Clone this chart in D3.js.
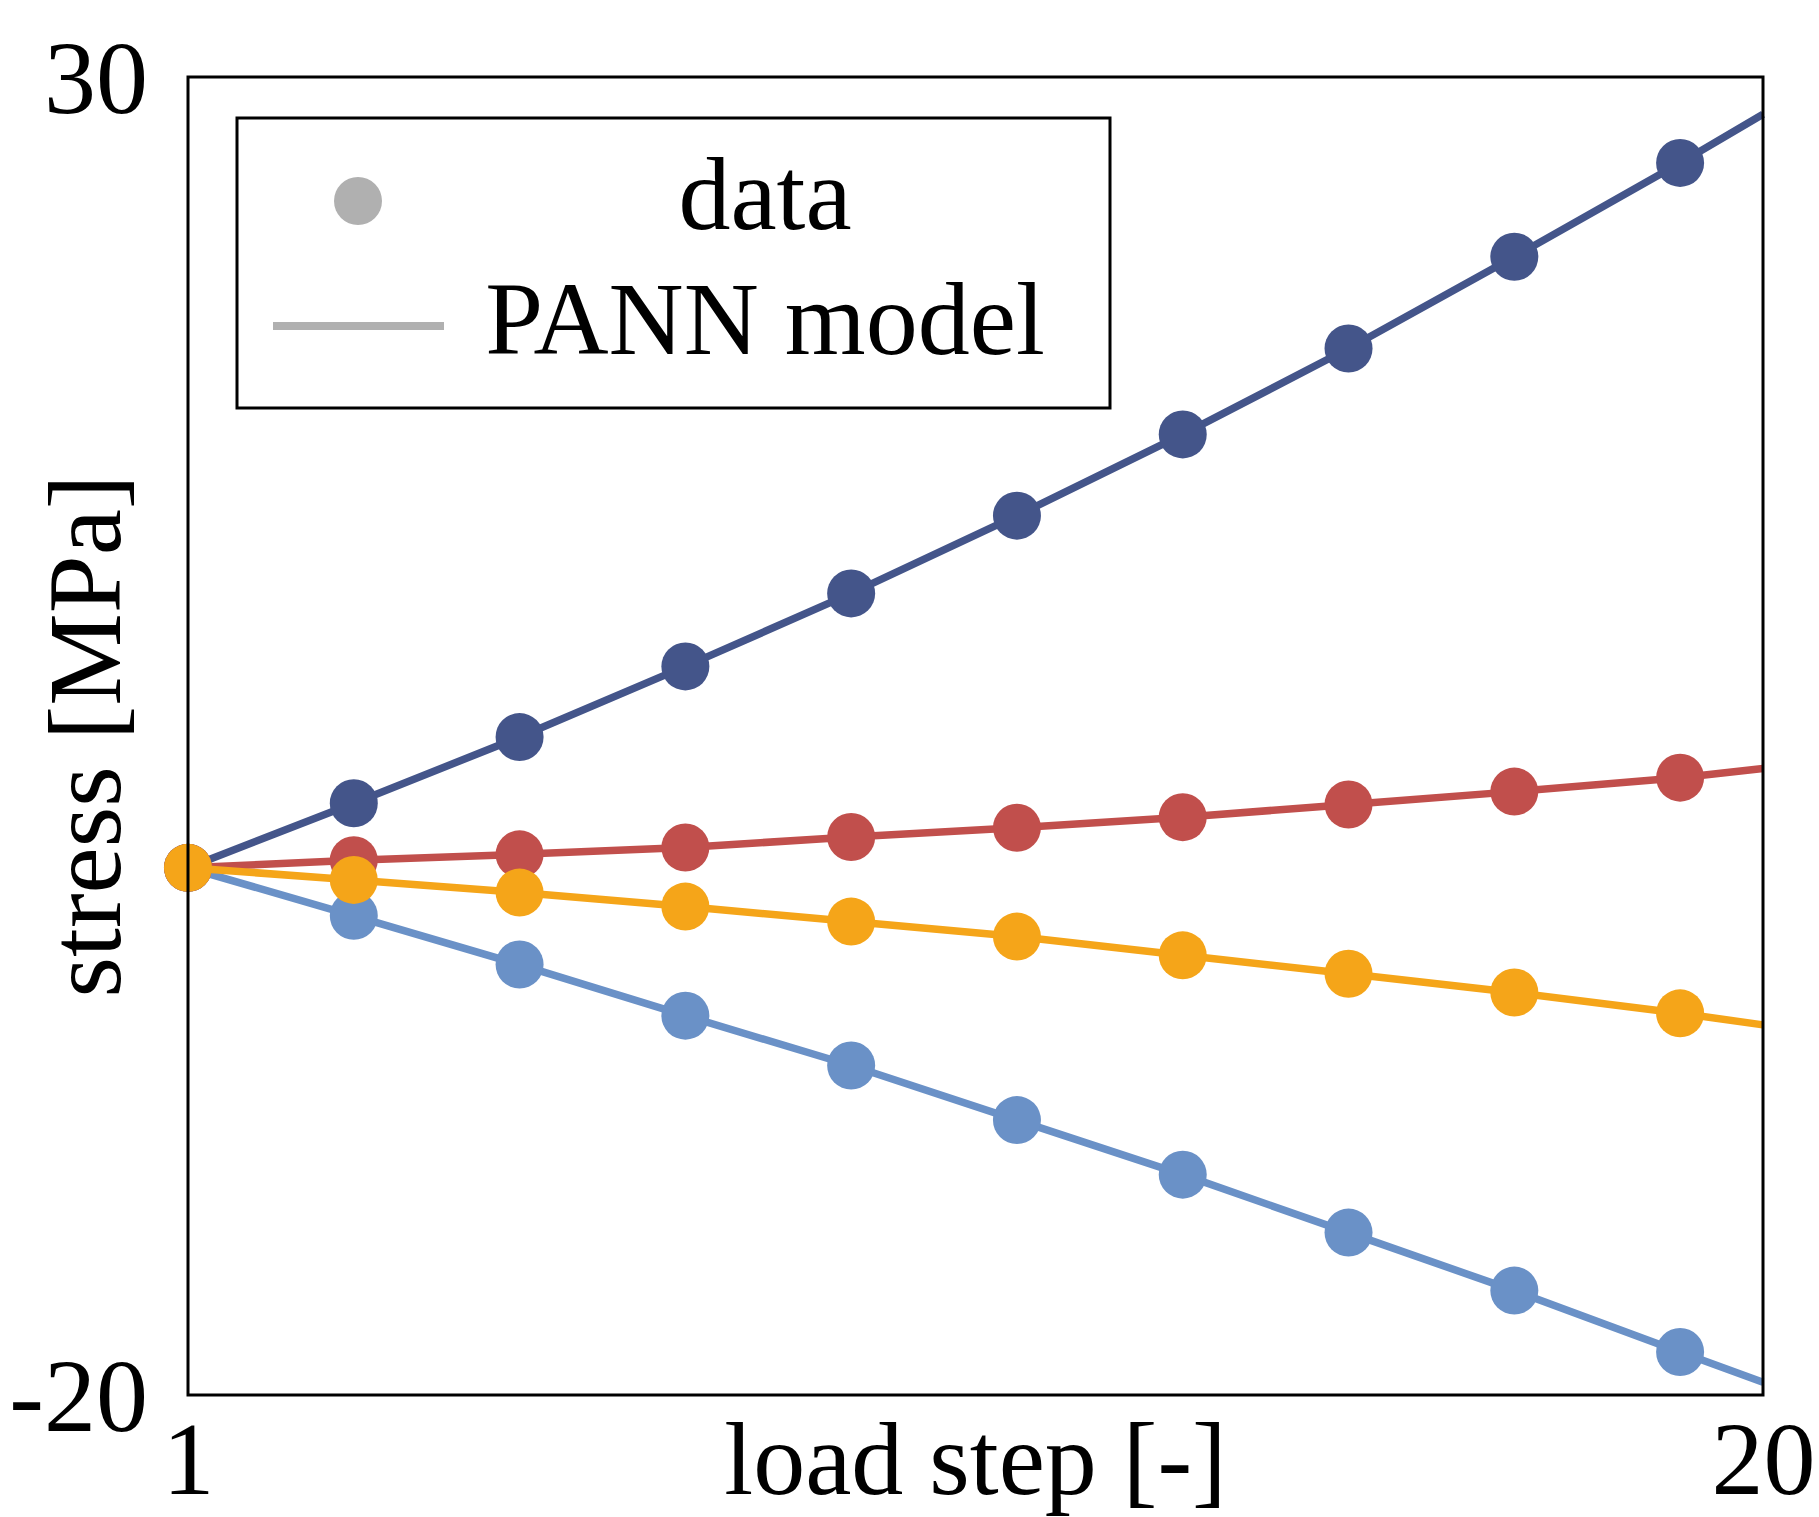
<!DOCTYPE html>
<html>
<head>
<meta charset="utf-8">
<script src="https://cdn.jsdelivr.net/npm/d3@7"></script>
<style>
  body { margin: 0; background: #fff; }
  text { font-family: "Liberation Serif", "Times New Roman", serif; fill: #000; }
</style>
</head>
<body>
<svg id="chart" width="1819" height="1517"></svg>
<script>
var steps = [1, 3, 5, 7, 9, 11, 13, 15, 17, 19, 20];
var dataSteps = [1, 3, 5, 7, 9, 11, 13, 15, 17, 19];

var darkBlue  = [0, 2.45, 4.96, 7.64, 10.41, 13.36, 16.44, 19.70, 23.18, 26.74, 28.59];
var lightBlue = [0, -1.82, -3.67, -5.61, -7.50, -9.57, -11.64, -13.84, -16.04, -18.37, -19.52];
var red       = [0, 0.29, 0.51, 0.77, 1.17, 1.52, 1.92, 2.40, 2.89, 3.42, 3.77];
var orange    = [0, -0.46, -0.94, -1.47, -2.04, -2.61, -3.32, -4.02, -4.73, -5.52, -5.96];

var seriesValues = [darkBlue, lightBlue, red, orange];
var seriesColors = ["#44558a", "#6a91c7", "#c14f4c", "#f5a519"];

var yTicks = [-20, 30];
var xTicks = [1, 20];

var svg = d3.select('#chart');

// plot box (window.top is reserved, so use other names)
var padL = 188, padR = 1763, padT = 77, padB = 1395;

var xScale = d3.scaleLinear().domain([1, 20]).range([padL, padR]);
var yScale = d3.scaleLinear().domain([-20, 30]).range([padB, padT]);

var line = d3.line()
    .x(function(d) { return xScale(d[0]); })
    .y(function(d) { return yScale(d[1]); });

var plotG = svg.append('g');

for (var i = 0; i < seriesValues.length; i++) {
    var pts = [];
    for (var j = 0; j < steps.length; j++) {
        pts.push([steps[j], seriesValues[i][j]]);
    }
    plotG.append('path')
        .attr('d', line(pts))
        .attr('fill', 'none')
        .attr('stroke', seriesColors[i])
        .attr('stroke-width', 7.5);

    plotG.selectAll('.dot' + i)
        .data(pts.slice(0, dataSteps.length))
        .enter()
        .append('circle')
        .attr('class', 'dot' + i)
        .attr('cx', function(d) { return xScale(d[0]); })
        .attr('cy', function(d) { return yScale(d[1]); })
        .attr('r', 24)
        .attr('fill', seriesColors[i]);
}

// frame
svg.append('rect')
    .attr('x', padL).attr('y', padT)
    .attr('width', padR - padL).attr('height', padB - padT)
    .attr('fill', 'none')
    .attr('stroke', '#000')
    .attr('stroke-width', 3);

// axes (only the two limit ticks, no tick marks)
var yAxis = d3.axisLeft(yScale).tickValues(yTicks).tickSize(0).tickPadding(40)
    .tickFormat(function(d) { return d; });
var yG = svg.append('g').attr('transform', 'translate(' + padL + ',0)').call(yAxis);
yG.select('.domain').remove();
yG.selectAll('text').attr('font-size', 104).attr('font-family', null).attr('dy', '0.34em');

var xAxis = d3.axisBottom(xScale).tickValues(xTicks).tickSize(0)
    .tickFormat(function(d) { return d; });
var xG = svg.append('g').attr('transform', 'translate(0,' + padB + ')').call(xAxis);
xG.select('.domain').remove();
xG.selectAll('text').attr('font-size', 104).attr('font-family', null)
    .attr('y', 99).attr('dy', 0);

svg.append('text')
    .attr('x', (padL + padR) / 2)
    .attr('y', 1494)
    .attr('text-anchor', 'middle')
    .attr('font-size', 104)
    .text('load step [-]');

svg.append('text')
    .attr('transform', 'translate(120,' + ((padT + padB) / 2) + ') rotate(-90)')
    .attr('text-anchor', 'middle')
    .attr('font-size', 104)
    .text('stress [MPa]');

// legend
var legend = svg.append('g');
legend.append('rect')
    .attr('x', 237).attr('y', 118)
    .attr('width', 873).attr('height', 290)
    .attr('fill', '#fff')
    .attr('stroke', '#000')
    .attr('stroke-width', 3);
legend.append('circle')
    .attr('cx', 358).attr('cy', 201).attr('r', 24)
    .attr('fill', '#b0b0b0');
legend.append('line')
    .attr('x1', 273).attr('x2', 444)
    .attr('y1', 326).attr('y2', 326)
    .attr('stroke', '#b0b0b0')
    .attr('stroke-width', 8);
legend.append('text')
    .attr('x', 765).attr('y', 229)
    .attr('text-anchor', 'middle')
    .attr('font-size', 104)
    .text('data');
legend.append('text')
    .attr('x', 765).attr('y', 354)
    .attr('text-anchor', 'middle')
    .attr('font-size', 104)
    .text('PANN model');
</script>
</body>
</html>
